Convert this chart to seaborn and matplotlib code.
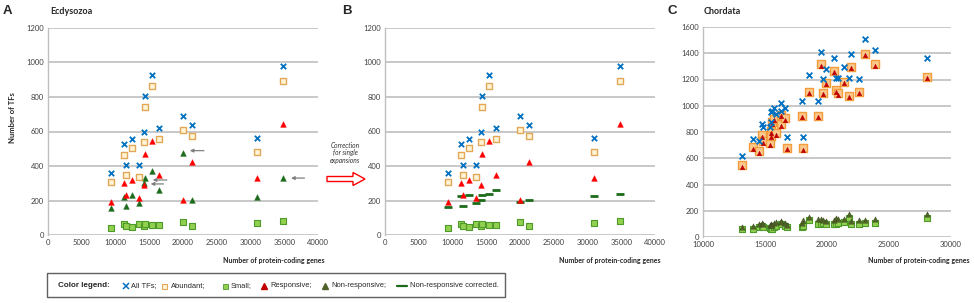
import matplotlib
matplotlib.use("Agg")
import matplotlib.pyplot as plt
from matplotlib.lines import Line2D
from matplotlib.patches import Rectangle, FancyArrow
import seaborn as sns
import pandas as pd

# ---------------- data ----------------
ecd_genes = [9300, 11200, 11500, 12450, 13500, 14150, 14300, 15400, 16450, 20050, 21350, 30900, 34850]
ecd_all = [359, 527, 406, 558, 406, 597, 808, 926, 618, 692, 638, 560, 978]
ecd_abundant = [309, 462, 346, 504, 338, 537, 742, 862, 555, 607, 574, 483, 893]
ecd_small = [43, 62, 54, 48, 62, 50, 66, 58, 58, 75, 54, 68, 79]
ecd_responsive = [193, 301, 230, 321, 214, 290, 471, 545, 348, 205, 423, 328, 643]
ecd_nonresponsive = [158, 222, 168, 230, 184, 300, 330, 371, 261, 477, 205, 222, 328]
ecd_nonresp_corrected = [162, 224, 166, 230, 184, 205, 230, 236, 261, 193, 205, 224, 238]

chord_genes = [13150, 14000, 14500, 14750, 14800, 15400, 15450, 15500, 15600, 15750, 15900,
               16250, 16300, 16600, 16800, 18000, 18050, 18550, 19300, 19500, 19700, 19950,
               20600, 20750, 20850, 21350, 21800, 21950, 22550, 23050, 23900, 28050]
chord_all = [620, 747, 734, 861, 835, 835, 949, 880, 960, 982, 940,
             962, 1020, 982, 759, 1033, 765, 1235, 1033, 1413, 1203, 1278,
             1367, 1208, 1215, 1296, 1215, 1392, 1203, 1511, 1428, 1367]
chord_abundant = [552, 684, 653, 777, 729, 716, 805, 772, 873, 899, 790,
                  861, 932, 906, 678, 924, 678, 1106, 924, 1316, 1099, 1177,
                  1266, 1119, 1094, 1182, 1076, 1296, 1106, 1397, 1316, 1220]
chord_responsive = [532, 672, 642, 765, 716, 702, 792, 760, 860, 888, 778,
                    848, 920, 894, 668, 912, 666, 1094, 912, 1304, 1087, 1165,
                    1254, 1107, 1082, 1170, 1064, 1284, 1094, 1385, 1304, 1208]
chord_small = [61, 61, 76, 81, 78, 66, 70, 61, 61, 76, 86,
               96, 101, 86, 76, 76, 82, 132, 101, 101, 106, 101,
               101, 101, 106, 111, 142, 96, 96, 106, 106, 147]
chord_nonresponsive = [80, 85, 100, 105, 98, 95, 100, 90, 88, 105, 115,
                       125, 118, 105, 95, 105, 130, 155, 135, 140, 130, 125,
                       130, 145, 135, 140, 175, 120, 130, 130, 135, 175]

ecd_xticks = [0, 5000, 10000, 15000, 20000, 25000, 30000, 35000, 40000]
ecd_yticks = [0, 200, 400, 600, 800, 1000, 1200]
chord_xticks = [10000, 15000, 20000, 25000, 30000]
chord_yticks = [0, 200, 400, 600, 800, 1000, 1200, 1400, 1600]

legend_labels = ["All TFs;", "Abundant;", "Small;", "Responsive;", "Non-responsive;",
                 "Non-responsive corrected."]

# ---------------- style ----------------
sns.set_style("white")
plt.rcParams["font.family"] = ["Lato", "DejaVu Sans"]

BLUE = "#0070C0"
AB_FACE_A, AB_EDGE_A = "#FFF5D6", "#E3A857"
AB_FACE_C, AB_EDGE_C = "#FBC98E", "#F39C3C"
SM_FACE, SM_EDGE = "#92D050", "#4E9A2A"
RED_A = "#FF0000"
RED_C = "#C00000"
DKGREEN = "#1B6B1B"
OLIVE = "#4F6228"
GRID = "#BFBFBF"
TICKC = "#404040"

W, H = 974, 303
fig = plt.figure(figsize=(W / 100, H / 100), dpi=100)


def fx(px):
    return px / W


def fy(py):
    return 1 - py / H


def axbox(l, r, t, b):
    return [l / W, (H - b) / H, (r - l) / W, (b - t) / H]


axA = fig.add_axes(axbox(48, 318, 28, 235))
axB = fig.add_axes(axbox(385, 655, 28, 235))
axC = fig.add_axes(axbox(703, 951, 27, 237))


def style_axes(ax, xlim, ylim, xticks, yticks):
    ax.set_xlim(*xlim)
    ax.set_ylim(*ylim)
    ax.set_xticks(xticks)
    ax.set_yticks(yticks)
    ax.set_xticklabels([str(v) for v in xticks])
    ax.set_yticklabels([str(v) for v in yticks])
    ax.tick_params(axis="both", length=0, labelsize=5.5, colors=TICKC, pad=3)
    ax.yaxis.grid(True, color=GRID, lw=1.2, zorder=0)
    ax.xaxis.grid(False)
    for s in ["top", "right", "bottom"]:
        ax.spines[s].set_visible(False)
    ax.spines["left"].set_color(GRID)
    ax.spines["left"].set_linewidth(1.0)
    ax.set_axisbelow(True)
    ax.set_xlabel("")
    ax.set_ylabel("")


def scat(ax, x, y, marker, s, fc, ec, lw=0.8, z=3):
    df = pd.DataFrame({"x": x, "y": y})
    sns.scatterplot(data=df, x="x", y="y", ax=ax, marker=marker, s=s, color=fc,
                    edgecolor=ec, linewidth=lw, zorder=z, legend=False)


# ---- Panels A and B ----
for ax, show_nonresp in [(axA, True), (axB, False)]:
    scat(ax, ecd_genes, ecd_small, "s", 15, SM_FACE, SM_EDGE)
    if show_nonresp:
        scat(ax, ecd_genes, ecd_nonresponsive, "^", 17, DKGREEN, DKGREEN, lw=0.3)
    else:
        df = pd.DataFrame({"x": ecd_genes, "y": ecd_nonresp_corrected})
        sns.scatterplot(data=df, x="x", y="y", ax=ax, marker="_", s=26, color=DKGREEN,
                        linewidth=2.0, zorder=3, legend=False)
    scat(ax, ecd_genes, ecd_responsive, "^", 17, RED_A, RED_A, lw=0.3)
    scat(ax, ecd_genes, ecd_abundant, "s", 17, AB_FACE_A, AB_EDGE_A, lw=1.0)
    df = pd.DataFrame({"x": ecd_genes, "y": ecd_all})
    sns.scatterplot(data=df, x="x", y="y", ax=ax, marker="x", s=15, color=BLUE,
                    linewidth=1.3, zorder=4, legend=False)
    style_axes(ax, (0, 40000), (0, 1200), ecd_xticks, ecd_yticks)

# grey arrows in A
for tail, head in [((23100, 489), (21000, 489)), ((17600, 319), (15500, 319)),
                   ((17100, 296), (15200, 296)), ((38000, 330), (36000, 330))]:
    axA.annotate("", xy=head, xytext=tail,
                 arrowprops=dict(arrowstyle="-|>", color="#808080", lw=0.9,
                                 mutation_scale=5, shrinkA=0, shrinkB=0))

# ---- Panel C ----
scat(axC, chord_genes, chord_small, "s", 17, SM_FACE, SM_EDGE)
scat(axC, chord_genes, chord_nonresponsive, "^", 15, OLIVE, "#3B4A1E", lw=0.3)
scat(axC, chord_genes, chord_abundant, "s", 30, AB_FACE_C, AB_EDGE_C, lw=1.0)
scat(axC, chord_genes, chord_responsive, "^", 11, RED_C, RED_C, lw=0.3, z=4)
df = pd.DataFrame({"x": chord_genes, "y": chord_all})
sns.scatterplot(data=df, x="x", y="y", ax=axC, marker="x", s=17, color=BLUE,
                linewidth=1.3, zorder=5, legend=False)
style_axes(axC, (10000, 30000), (0, 1600), chord_xticks, chord_yticks)

# ---- texts ----
fig.text(fx(3), fy(11), "A", fontsize=9.5, fontweight="bold", family="Liberation Sans",
         va="center", ha="left")
fig.text(fx(50), fy(12), "Ecdysozoa", fontsize=6.5, fontweight="bold", va="center")
fig.text(fx(342), fy(11), "B", fontsize=9.5, fontweight="bold", family="Liberation Sans",
         va="center", ha="left")
fig.text(fx(667), fy(11), "C", fontsize=9.5, fontweight="bold", family="Liberation Sans",
         va="center", ha="left")
fig.text(fx(704), fy(12), "Chordata", fontsize=6.5, fontweight="bold", va="center")

fig.text(fx(13), fy(118), "Number of TFs", fontsize=5.5, fontweight="bold",
         rotation=90, va="center", ha="center")
for xr in [325, 661, 970]:
    fig.text(fx(xr), fy(260), "Number of protein-coding genes", fontsize=5,
             fontweight="bold", ha="right", va="center")

fig.text(fx(345), fy(153), "Correction\nfor single\nexpansions", fontsize=4.8,
         style="italic", ha="center", va="center", linespacing=1.15, color="#333333")
fig.patches.append(FancyArrow(fx(327), fy(179), 26 / W, 0, width=5 / H,
                              head_width=13 / H, head_length=12 / W,
                              length_includes_head=False, transform=fig.transFigure,
                              facecolor="white", edgecolor="#FF0000", lw=1.0))

# ---- legend box (manual placement) ----
fig.patches.append(Rectangle((fx(47), fy(297)), (505 - 47) / W, (297 - 273) / H,
                             transform=fig.transFigure, facecolor="white",
                             edgecolor="#606060", lw=1.0))
LY = fy(285.5)
fig.text(fx(58), LY, "Color legend:", fontsize=5.8, fontweight="bold",
         family="Liberation Sans", va="center", ha="left")

legend_markers = [
    dict(marker="x", color=BLUE, ls="none", markersize=4, mew=1.1),
    dict(marker="s", mfc=AB_FACE_A, mec=AB_EDGE_A, ls="none", markersize=3.6, mew=0.8),
    dict(marker="s", mfc=SM_FACE, mec=SM_EDGE, ls="none", markersize=3.6, mew=0.6),
    dict(marker="^", color=RED_C, ls="none", markersize=3.8),
    dict(marker="^", color=OLIVE, ls="none", markersize=3.8),
    None,
]
marker_px = [126, 164, 225, 264, 325, 402]
text_px = [131, 171, 231, 270, 331, 410]
for lab, mk, mx, tx in zip(legend_labels, legend_markers, marker_px, text_px):
    if mk is None:
        fig.add_artist(Line2D([fx(mx - 5), fx(mx + 5)], [LY, LY], color=DKGREEN, lw=1.6,
                              transform=fig.transFigure))
    else:
        fig.add_artist(Line2D([fx(mx)], [LY], transform=fig.transFigure, **mk))
    fig.text(fx(tx), LY, lab, fontsize=5.4, family="Liberation Sans", va="center", ha="left")

fig.savefig("out.png", dpi=100)
